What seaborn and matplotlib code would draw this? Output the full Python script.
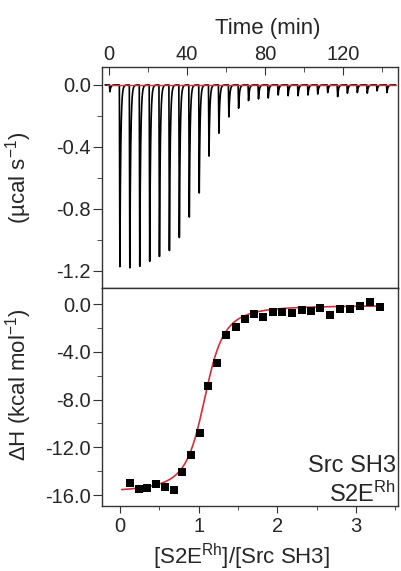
import numpy as np
import matplotlib
matplotlib.use("Agg")
import matplotlib.pyplot as plt
import seaborn as sns
from matplotlib.ticker import MultipleLocator, FormatStrFormatter

# Raw thermogram: injection times (min) and peak heat rate of each injection (µcal/s)
inj_time = [0.2, 5.3, 10.4, 15.5, 20.6, 25.6, 30.7, 35.8, 40.9, 46.0,
            51.0, 56.1, 61.2, 66.2, 71.3, 76.4, 81.4, 86.5, 91.6, 96.7,
            101.8, 106.8, 111.9, 117.0, 122.0, 127.1, 132.2, 137.2, 142.3]
inj_peak = [-0.045, -1.198, -1.206, -1.196, -1.163, -1.131, -1.092, -1.006, -0.871, -0.712,
            -0.469, -0.318, -0.211, -0.153, -0.103, -0.092, -0.086, -0.066, -0.071, -0.071,
            -0.066, -0.060, -0.050, -0.077, -0.054, -0.050, -0.054, -0.039, -0.050]
baseline_time = [-1.0, 147.0]
baseline_rate = [0.0, 0.0]

# Integrated heats per injection vs molar ratio
molar_ratio = [0.131, 0.241, 0.347, 0.457, 0.568, 0.682, 0.792, 0.902, 1.012, 1.122,
               1.236, 1.351, 1.470, 1.592, 1.707, 1.821, 1.944, 2.063, 2.186, 2.309,
               2.427, 2.546, 2.673, 2.795, 2.918, 3.050, 3.177, 3.304]
heat = [-14.98, -15.46, -15.40, -15.07, -15.29, -15.57, -14.09, -12.61, -10.80, -6.86,
        -4.97, -2.62, -1.93, -1.23, -0.86, -1.09, -0.67, -0.67, -0.78, -0.47,
        -0.56, -0.31, -0.92, -0.45, -0.39, -0.17, 0.14, -0.25]

# One-site binding model parameters
fit_n = 1.09
fit_c = 70.0
fit_dh = -15.65
fit_offset = -0.12
fit_range = (0.02, 3.31)

# Peak shape of a single injection: fast deflection, exponential recovery
RISE = 0.25
TAU = 0.45


def thermogram(t):
    sig = np.zeros_like(t)
    for t0, d in zip(inj_time, inj_peak):
        dt = t - t0
        rise = (dt >= 0) & (dt < RISE)
        sig[rise] += d * dt[rise] / RISE
        dec = dt >= RISE
        sig[dec] += d * np.exp(-(dt[dec] - RISE) / TAU)
    return sig


def one_site(xr):
    X = xr / fit_n
    r = 1.0 / fit_c
    return fit_dh * (0.5 + (1 - X - r) / (2 * np.sqrt((1 + X + r) ** 2 - 4 * X))) + fit_offset


sns.set_style("ticks")
plt.rcParams["font.family"] = ["Liberation Sans", "DejaVu Sans"]
plt.rcParams["mathtext.fontset"] = "custom"
plt.rcParams["mathtext.rm"] = "Liberation Sans"
plt.rcParams["mathtext.it"] = "Liberation Sans:italic"
plt.rcParams["mathtext.default"] = "regular"
plt.rcParams["axes.unicode_minus"] = False

TICK_FS = 14.5
LABEL_FS = 16
SPINE_C = "#333333"
RED = "#d0303c"

fig = plt.figure(figsize=(4.01, 5.71), dpi=100)
ax1 = fig.add_axes([0.2544, 0.4956, 0.7381, 0.3871])
ax2 = fig.add_axes([0.2544, 0.1138, 0.7381, 0.3818])

# ---- top: raw heat rate ----
t = np.arange(-2.0, 147.0, 0.02)
sns.lineplot(x=t, y=thermogram(t), ax=ax1, color="black", lw=1.2,
             estimator=None, sort=False)
sns.lineplot(x=baseline_time, y=baseline_rate, ax=ax1, color=RED, lw=1.0,
             estimator=None, sort=False)
ax1.set_xlim(-3.6, 148.2)
ax1.set_ylim(-1.31, 0.116)
ax1.xaxis.tick_top()
ax1.xaxis.set_label_position("top")
ax1.xaxis.set_major_locator(MultipleLocator(40))
ax1.xaxis.set_minor_locator(MultipleLocator(20))
ax1.yaxis.set_major_locator(MultipleLocator(0.4))
ax1.yaxis.set_minor_locator(MultipleLocator(0.2))
ax1.yaxis.set_major_formatter(FormatStrFormatter("%.1f"))
ax1.tick_params(axis="x", which="both", direction="in", top=True, bottom=False,
                labeltop=True, labelbottom=False, labelsize=TICK_FS, pad=2.5, color=SPINE_C)
ax1.tick_params(axis="x", which="major", length=6)
ax1.tick_params(axis="x", which="minor", length=3.5)
ax1.set_xlabel("Time (min)", fontsize=LABEL_FS)
ax1.xaxis.set_label_coords(0.561, 1.15)
ax1.set_ylabel("(µcal s$^{-1}$)", fontsize=LABEL_FS)
ax1.yaxis.set_label_coords(-0.23, 0.5)

# ---- bottom: integrated heats with fit ----
xf = np.linspace(fit_range[0], fit_range[1], 400)
sns.lineplot(x=xf, y=one_site(xf), ax=ax2, color=RED, lw=1.2,
             estimator=None, sort=False, zorder=2)
sns.scatterplot(x=molar_ratio, y=heat, ax=ax2, marker="s", s=36, color="black",
                edgecolor="black", linewidth=0, zorder=3)
ax2.set_xlim(-0.229, 3.532)
ax2.set_ylim(-16.92, 1.34)
ax2.xaxis.set_major_locator(MultipleLocator(1))
ax2.xaxis.set_minor_locator(MultipleLocator(0.5))
ax2.yaxis.set_major_locator(MultipleLocator(4))
ax2.yaxis.set_minor_locator(MultipleLocator(2))
ax2.yaxis.set_major_formatter(FormatStrFormatter("%.1f"))
ax2.tick_params(axis="x", which="both", direction="out", labelsize=TICK_FS, pad=3, color=SPINE_C)
ax2.tick_params(axis="x", which="major", length=5)
ax2.tick_params(axis="x", which="minor", length=3)
ax2.set_xlabel("[S2E$^{Rh}$]/[Src SH3]", fontsize=LABEL_FS)
ax2.xaxis.set_label_coords(0.47, -0.165)
ax2.set_ylabel("ΔH (kcal mol$^{-1}$)", fontsize=LABEL_FS)
ax2.yaxis.set_label_coords(-0.23, 0.555)
ax2.text(0.993, 0.157, "Src SH3", transform=ax2.transAxes, ha="right",
         va="baseline", fontsize=17)
ax2.text(0.993, 0.02, "S2E$^{Rh}$", transform=ax2.transAxes, ha="right",
         va="baseline", fontsize=17)

for ax in (ax1, ax2):
    ax.tick_params(axis="y", which="both", direction="out", left=True, right=False,
                   labelsize=TICK_FS, pad=1.5, color=SPINE_C)
    ax.tick_params(axis="y", which="major", length=6.5)
    ax.tick_params(axis="y", which="minor", length=3.5)
    for sp in ax.spines.values():
        sp.set_visible(True)
        sp.set_color(SPINE_C)
        sp.set_linewidth(1.0)

fig.savefig("out.png", dpi=100)
